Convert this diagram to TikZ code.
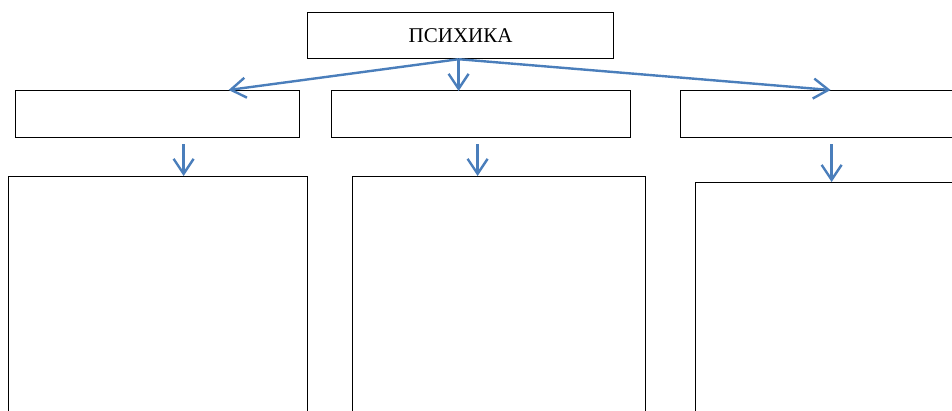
\documentclass[tikz,border=0pt]{standalone}
\usepackage{fontspec}
\setmainfont{Liberation Serif}
\usetikzlibrary{arrows.meta}
\definecolor{arrowblue}{HTML}{4A7EBB}
\tikzset{
  box/.style={draw=black, line width=1.2pt, anchor=north west, inner sep=0pt, fill=white},
  conn/.style={draw=arrowblue, line width=2.4pt, -{Straight Barb[length=15pt,width=20pt,line width=2.4pt]}},
}
\begin{document}
\begin{tikzpicture}[x=1pt,y=-1pt]
\useasboundingbox (0,0) rectangle (952,410);
\clip (0,0) rectangle (952,410);
\node[box, minimum width=306pt, minimum height=46pt, font=\fontsize{21}{24}\selectfont] (top) at (307,12) {ПСИХИКА};
\node[box, minimum width=284pt, minimum height=47pt] (lb) at (15,90) {};
\node[box, minimum width=299pt, minimum height=47pt] (mb) at (331,90) {};
\node[box, minimum width=290pt, minimum height=47pt] (rb) at (680,90) {};
\node[box, minimum width=299pt, minimum height=250pt] (bl) at (8,176) {};
\node[box, minimum width=293pt, minimum height=250pt] (bm) at (352,176) {};
\node[box, minimum width=280pt, minimum height=250pt] (br) at (695,182) {};
\draw[conn] ([xshift=-2pt]top.south) -- ([xshift=71pt]lb.north);
\draw[conn] ([xshift=-2pt]top.south) -- ([xshift=-22.5pt,yshift=-1pt]mb.north);
\draw[conn] ([xshift=-2pt]top.south) -- ([xshift=5pt]rb.north);
\draw[conn] ([xshift=26pt,yshift=-6pt]lb.south) -- ([xshift=25.5pt]bl.north);
\draw[conn] ([xshift=-3.5pt,yshift=-6pt]mb.south) -- ([xshift=-21.5pt]bm.north);
\draw[conn] ([xshift=6pt,yshift=-6pt]rb.south) -- ([xshift=-4pt]br.north);
\end{tikzpicture}
\end{document}
